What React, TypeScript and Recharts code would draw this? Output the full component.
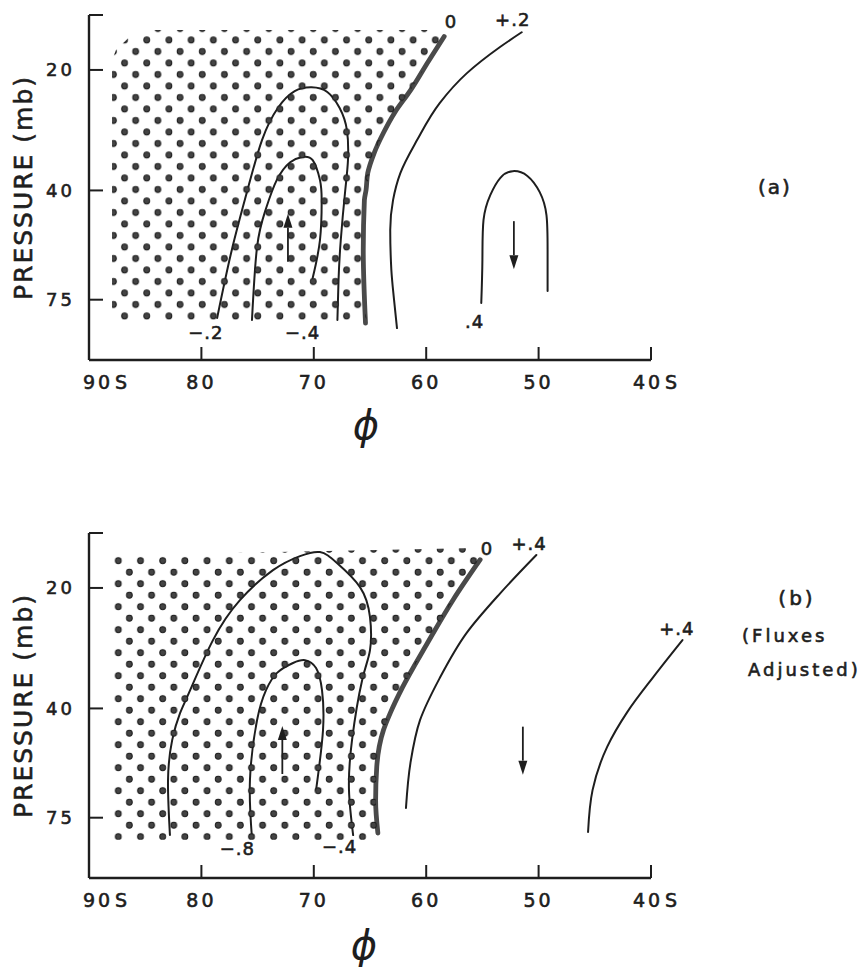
import React from 'react';
import { ComposedChart, Line, Scatter, XAxis, YAxis, ReferenceLine } from 'recharts';

type Pt = { x: number; y: number };
type Lbl = { x: number; y: number; text: string };
type Arr = { x: number; y: number; dir: 'up' | 'down' };

// ---- axes ----
const latitudeTicks = [90, 80, 70, 60, 50, 40];
const latitudeDomain = [30, 90];
const pressureTicks = [20, 40, 75];
const pressureTop = 14.58;
const pressureBottom = 106.1;

// ---- panel (a) ----
const aStipple: Pt[] = [
  { x: 85.0, y: 15.9 }, { x: 86.5, y: 16.65 }, { x: 87.6, y: 17.84 }, { x: 87.95, y: 18.9 },
  { x: 87.95, y: 84.3 }, { x: 65.3, y: 84.3 }, { x: 65.4, y: 80.0 }, { x: 65.6, y: 56.4 },
  { x: 65.5, y: 42.3 }, { x: 65.35, y: 39.9 }, { x: 64.64, y: 32.3 }, { x: 63.8, y: 28.7 },
  { x: 62.78, y: 25.5 }, { x: 61.4, y: 22.5 }, { x: 59.84, y: 19.1 }, { x: 58.6, y: 16.5 },
  { x: 59.2, y: 15.9 },
];
const aZero: Pt[] = [
  { x: 58.4, y: 16.5 }, { x: 59.84, y: 19.1 }, { x: 61.4, y: 22.5 }, { x: 62.78, y: 25.5 },
  { x: 63.8, y: 28.7 }, { x: 64.64, y: 32.3 }, { x: 65.2, y: 36.2 }, { x: 65.35, y: 39.9 },
  { x: 65.5, y: 42.3 }, { x: 65.6, y: 56.4 }, { x: 65.4, y: 85.8 },
];
const aPlusTwo: Pt[] = [
  { x: 51.5, y: 16.1 }, { x: 53.4, y: 17.5 }, { x: 56.4, y: 20.4 }, { x: 58.8, y: 24.2 },
  { x: 60.8, y: 29.9 }, { x: 62.3, y: 36.2 }, { x: 62.95, y: 42.3 }, { x: 63.2, y: 50.2 },
  { x: 63.1, y: 63.2 }, { x: 62.86, y: 75.1 }, { x: 62.6, y: 88.3 },
];
const aPlusFour: Pt[] = [
  { x: 55.1, y: 76.4 }, { x: 55.0, y: 59.7 }, { x: 54.9, y: 47.4 }, { x: 54.3, y: 41.1 },
  { x: 53.4, y: 37.2 }, { x: 52.3, y: 35.8 }, { x: 51.0, y: 36.8 }, { x: 49.9, y: 40.4 },
  { x: 49.3, y: 46.1 }, { x: 49.2, y: 56.4 }, { x: 49.2, y: 71.3 },
];
const aMinusTwo: Pt[] = [
  { x: 78.6, y: 83.3 }, { x: 77.3, y: 56.4 }, { x: 75.9, y: 39.9 }, { x: 74.6, y: 29.9 },
  { x: 73.2, y: 24.9 }, { x: 71.7, y: 22.6 }, { x: 70.2, y: 22.1 }, { x: 68.8, y: 22.7 },
  { x: 67.7, y: 24.9 }, { x: 67.05, y: 28.3 }, { x: 66.96, y: 33.6 }, { x: 67.2, y: 39.9 },
  { x: 67.6, y: 53.2 }, { x: 67.8, y: 67.0 }, { x: 67.9, y: 84.3 },
];
const aMinusFour: Pt[] = [
  { x: 75.5, y: 84.3 }, { x: 75.05, y: 55.4 }, { x: 74.3, y: 44.8 }, { x: 73.3, y: 37.7 },
  { x: 72.1, y: 34.0 }, { x: 71.05, y: 33.0 }, { x: 70.1, y: 33.6 }, { x: 69.45, y: 37.7 },
  { x: 69.3, y: 42.3 }, { x: 69.45, y: 53.2 }, { x: 70.1, y: 66.2 },
];
const aLabels: Lbl[] = [
  { x: 57.8, y: 15.1, text: '0' },
  { x: 52.3, y: 14.93, text: '+.2' },
  { x: 79.6, y: 90.8, text: '−.2' },
  { x: 71.0, y: 90.8, text: '−.4' },
  { x: 55.7, y: 85.2, text: '.4' },
];
const aArrows: Arr[] = [
  { x: 72.3, y: 52.5, dir: 'up' },
  { x: 52.2, y: 54.8, dir: 'down' },
];

// ---- panel (b) ----
const bStipple: Pt[] = [
  { x: 87.86, y: 16.6 }, { x: 87.86, y: 85.2 }, { x: 64.3, y: 85.2 }, { x: 64.3, y: 81.9 },
  { x: 64.5, y: 68.0 }, { x: 64.4, y: 56.0 }, { x: 63.8, y: 45.3 }, { x: 63.2, y: 41.1 },
  { x: 62.1, y: 35.4 }, { x: 59.9, y: 27.5 }, { x: 57.6, y: 21.4 }, { x: 55.2, y: 17.0 },
  { x: 55.6, y: 15.9 }, { x: 70.0, y: 16.2 },
];
const bZero: Pt[] = [
  { x: 55.2, y: 17.0 }, { x: 57.6, y: 21.4 }, { x: 59.9, y: 27.5 }, { x: 62.1, y: 35.4 },
  { x: 63.2, y: 41.1 }, { x: 63.8, y: 45.3 }, { x: 64.4, y: 56.0 }, { x: 64.5, y: 68.0 },
  { x: 64.3, y: 81.9 },
];
const bPlusFourA: Pt[] = [
  { x: 50.2, y: 16.55 }, { x: 53.4, y: 20.6 }, { x: 56.4, y: 25.9 }, { x: 58.8, y: 33.6 },
  { x: 60.55, y: 42.8 }, { x: 61.4, y: 54.7 }, { x: 61.8, y: 70.9 },
];
const bPlusFourB: Pt[] = [
  { x: 37.2, y: 27.0 }, { x: 39.8, y: 33.4 }, { x: 42.1, y: 40.8 }, { x: 43.9, y: 49.9 },
  { x: 45.2, y: 64.0 }, { x: 45.6, y: 81.4 },
];
const bMinusFour: Pt[] = [
  { x: 82.8, y: 82.8 }, { x: 82.97, y: 60.4 }, { x: 82.6, y: 48.0 }, { x: 81.9, y: 41.1 },
  { x: 81.0, y: 36.0 }, { x: 78.97, y: 27.0 }, { x: 76.57, y: 21.45 }, { x: 73.63, y: 18.05 },
  { x: 71.23, y: 16.65 }, { x: 69.45, y: 16.27 }, { x: 67.94, y: 17.33 }, { x: 65.89, y: 19.9 },
  { x: 65.0, y: 23.65 }, { x: 65.0, y: 28.6 }, { x: 65.7, y: 34.0 }, { x: 66.6, y: 48.0 },
  { x: 66.87, y: 64.0 }, { x: 66.5, y: 82.9 },
];
const bMinusEight: Pt[] = [
  { x: 75.5, y: 84.3 }, { x: 75.68, y: 60.4 }, { x: 75.05, y: 42.8 }, { x: 74.25, y: 36.0 },
  { x: 73.27, y: 32.6 }, { x: 71.85, y: 30.8 }, { x: 70.78, y: 30.3 }, { x: 69.8, y: 31.7 },
  { x: 69.27, y: 36.0 }, { x: 69.18, y: 45.3 }, { x: 69.8, y: 64.0 },
];
const bLabels: Lbl[] = [
  { x: 54.6, y: 15.9, text: '0' },
  { x: 50.85, y: 15.5, text: '+.4' },
  { x: 37.7, y: 25.2, text: '+.4' },
  { x: 76.8, y: 89.8, text: '−.8' },
  { x: 67.7, y: 88.3, text: '−.4' },
];
const bArrows: Arr[] = [
  { x: 72.8, y: 50.8, dir: 'up' },
  { x: 51.4, y: 51.0, dir: 'down' },
];

// ---- styling ----
const INK = '#1e1e1e';
const FONT = '"DejaVu Sans", Verdana, sans-serif';
const TXT_STROKE = { stroke: INK, strokeWidth: 0.6 } as any;

const XTick = (props: any) => {
  const { x, y, payload } = props;
  const v = payload.value;
  const shift = v === 90 ? 9 : v === 40 ? -3 : 0;
  const common = { fill: INK, fontSize: 19, fontFamily: FONT, letterSpacing: 3, ...TXT_STROKE } as any;
  return (
    <g>
      <text x={x + shift} y={y} dy="0.71em" textAnchor="middle" {...common}>{String(v)}</text>
      {(v === 90 || v === 40) && (
        <text x={x + shift + 17} y={y} dy="0.71em" textAnchor="start" {...common}>S</text>
      )}
    </g>
  );
};

const YTick = (props: any) => {
  const { x, y, payload } = props;
  if (!pressureTicks.includes(payload.value)) return <g />;
  return (
    <text x={x} y={y} dy="0.36em" textAnchor="end" fill={INK} fontSize={18} fontFamily={FONT}
      letterSpacing={3} {...TXT_STROKE}>
      {String(payload.value)}
    </text>
  );
};

const YLabel = (props: any) => {
  const vb = props.viewBox || { x: 0, y: 15, width: 89, height: 345 };
  const cx = vb.x + 23;
  const cy = vb.y + vb.height / 2;
  return (
    <text x={cx} y={cy} dy="0.36em" textAnchor="middle" transform={`rotate(-90, ${cx}, ${cy})`}
      fill={INK} fontSize={25} fontFamily={FONT} letterSpacing={2} {...TXT_STROKE}>
      {props.value}
    </text>
  );
};

const emptyShape = () => <g />;

const makePoly = (pid: string) => (props: any) => {
  const pts = props.points || [];
  if (!pts.length) return <g />;
  const d = pts.map((p: any, i: number) => `${i ? 'L' : 'M'}${p.x},${p.y}`).join(' ') + ' Z';
  return <path d={d} fill={`url(#${pid})`} stroke="none" />;
};

const LabelShape = (props: any) => (
  <text x={props.cx} y={props.cy} dy="0.36em" textAnchor="middle" fill={INK} fontSize={18}
    fontFamily={FONT} letterSpacing={1} {...TXT_STROKE}>
    {props.payload.text}
  </text>
);

const ArrowShape = (props: any) => {
  const { cx, cy, payload } = props;
  const up = payload.dir === 'up';
  const half = 24;
  const tip = up ? cy - half : cy + half;
  const tail = up ? cy + half : cy - half;
  const base = up ? tip + 14 : tip - 14;
  return (
    <g>
      <line x1={cx} y1={tail} x2={cx} y2={base} stroke={INK} strokeWidth={1.8} />
      <path d={`M${cx},${tip} L${cx - 4.5},${base} L${cx + 4.5},${base} Z`} fill={INK} />
    </g>
  );
};

type Contour = { pts: Pt[]; thick?: boolean; curve: 'natural' | 'monotoneY' };

const Panel = (p: {
  top: number; pid: string; phaseX: number; phaseY: number;
  stipple: Pt[]; contours: Contour[]; labels: Lbl[]; arrows: Arr[];
}) => (
  <div style={{ position: 'absolute', left: 0, top: p.top }}>
    <ComposedChart width={868} height={420} margin={{ top: 15, right: 104.6, bottom: 0, left: 0 }}>
      <defs>
        <pattern id={p.pid} patternUnits="userSpaceOnUse" x={p.phaseX} y={p.phaseY} width={22.2} height={23}>
          <circle cx={5.55} cy={5.75} r={2.9} fill="#444" stroke="#1a1a1a" strokeWidth={1} />
          <circle cx={16.65} cy={17.25} r={2.9} fill="#444" stroke="#1a1a1a" strokeWidth={1} />
        </pattern>
      </defs>
      <XAxis type="number" dataKey="x" domain={latitudeDomain} reversed ticks={latitudeTicks}
        interval={0} height={60} tickSize={-13} tickMargin={29} tick={<XTick />}
        axisLine={false} tickLine={{ stroke: INK, strokeWidth: 2 }} />
      <YAxis type="number" dataKey="y" scale="log" domain={[pressureTop, pressureBottom]} reversed
        ticks={[pressureTop, ...pressureTicks]} interval={0} width={89} tickSize={-14} tickMargin={28}
        tick={<YTick />} axisLine={{ stroke: INK, strokeWidth: 2.4 }} tickLine={{ stroke: INK, strokeWidth: 2 }}
        label={{ value: 'PRESSURE (mb)', content: YLabel }} />
      <Scatter data={p.stipple} line={makePoly(p.pid)} lineType="joint" shape={emptyShape}
        isAnimationActive={false} legendType="none" />
      {p.contours.map((c, i) => (
        <Line key={i} data={c.pts} dataKey="y" type={c.curve} stroke={c.thick ? '#4a4a4a' : INK}
          strokeWidth={c.thick ? 4.8 : 2} strokeLinecap="round" dot={false} activeDot={false}
          isAnimationActive={false} legendType="none" />
      ))}
      <ReferenceLine segment={[{ x: 90, y: pressureBottom }, { x: 40, y: pressureBottom }]}
        stroke={INK} strokeWidth={2.4} ifOverflow="visible" />
      <Scatter data={p.labels} shape={LabelShape} isAnimationActive={false} legendType="none" />
      <Scatter data={p.arrows} shape={ArrowShape} isAnimationActive={false} legendType="none" />
    </ComposedChart>
  </div>
);

const txt = (left: number, top: number, s: string, size: number, extra: any = {}) => (
  <div style={{
    position: 'absolute', left, top, fontSize: size, lineHeight: 1, fontFamily: FONT, color: INK,
    whiteSpace: 'nowrap', WebkitTextStroke: '0.6px #1e1e1e', ...extra,
  }}>{s}</div>
);

export default function App() {
  return (
    <div style={{ position: 'absolute', left: 0, top: 0, width: 868, height: 967, background: '#fff', fontFamily: FONT }}>
      <Panel top={0} pid="dotsA" phaseX={8.0} phaseY={11.25} stipple={aStipple}
        contours={[
          { pts: aMinusTwo, curve: 'natural' }, { pts: aMinusFour, curve: 'natural' },
          { pts: aZero, thick: true, curve: 'monotoneY' },
          { pts: aPlusTwo, curve: 'monotoneY' }, { pts: aPlusFour, curve: 'natural' },
        ]}
        labels={aLabels} arrows={aArrows} />
      <Panel top={518} pid="dotsB" phaseX={1.75} phaseY={13.95} stipple={bStipple}
        contours={[
          { pts: bMinusFour, curve: 'natural' }, { pts: bMinusEight, curve: 'natural' },
          { pts: bZero, thick: true, curve: 'monotoneY' },
          { pts: bPlusFourA, curve: 'monotoneY' }, { pts: bPlusFourB, curve: 'monotoneY' },
        ]}
        labels={bLabels} arrows={bArrows} />
      {txt(366, 425, 'ϕ', 40, { transform: 'translate(-50%, -50%)', fontStyle: 'italic', WebkitTextStroke: '0px' })}
      {txt(364, 945, 'ϕ', 40, { transform: 'translate(-50%, -50%)', fontStyle: 'italic', WebkitTextStroke: '0px' })}
      {txt(775, 187, '(a)', 20, { transform: 'translate(-50%, -50%)', letterSpacing: 2 })}
      {txt(797, 598, '(b)', 20, { transform: 'translate(-50%, -50%)', letterSpacing: 3 })}
      {txt(742, 636, '(Fluxes', 18, { transform: 'translateY(-50%)', letterSpacing: 3 })}
      {txt(748, 670, 'Adjusted)', 18, { transform: 'translateY(-50%)', letterSpacing: 3 })}
    </div>
  );
}
